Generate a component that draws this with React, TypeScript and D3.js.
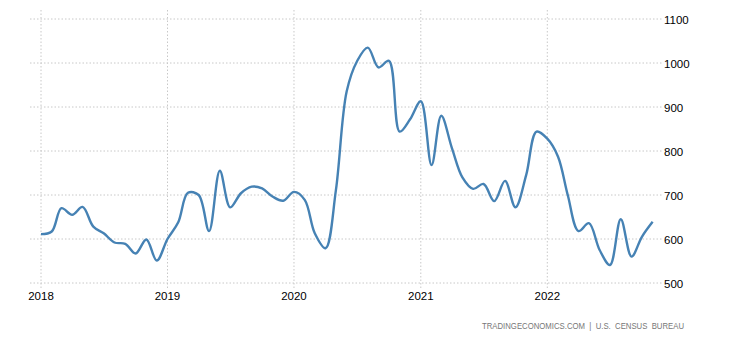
import React from "react";
import * as d3 from "d3";

const startYear = 2018;
const values: number[] = [
  611, 617, 670, 655, 673, 628, 613, 592, 589, 567, 599, 551,
  600, 638, 705, 700, 618, 755, 672, 704, 719, 715, 696, 687,
  707, 689, 613, 579, 711, 935, 1004, 1035, 990, 1005, 844, 872,
  913, 768, 880, 806, 740, 714, 725, 686, 732, 672, 745, 844,
  828, 787, 700, 618, 636, 575, 541, 645, 560, 605, 639,
];
const yearTicks = [2018, 2019, 2020, 2021, 2022];
const yTicks = [500, 600, 700, 800, 900, 1000, 1100];
const sourceText = "TRADINGECONOMICS.COM  |  U.S.  CENSUS  BUREAU";

export default function App() {
  const W = 730, H = 340;
  const dates = values.map((_, i) => new Date(startYear, i, 1));
  const x = d3.scaleTime()
    .domain([new Date(2018, 0, 1), new Date(2022, 0, 1)])
    .range([41, 547.3]);
  const y = d3.scaleLinear().domain([500, 1100]).range([283, 19]);
  const line = d3.line<number>()
    .x((_, i) => x(dates[i]))
    .y((d) => y(d))
    .curve(d3.curveCatmullRom.alpha(0.5));
  const font = "Tahoma, 'Liberation Sans', Arial, sans-serif";
  return (
    <svg width={W} height={H} style={{ position: "absolute", left: 0, top: 0 }}>
      <rect width={W} height={H} fill="#fff" />
      {yTicks.map((t) => (
        <g key={t}>
          <line x1={30} x2={662} y1={y(t)} y2={y(t)} stroke="#c8c8c8" strokeDasharray="1.5,2" />
          <text x={664} y={y(t) + 4.5} fontSize={11.5} fontFamily={font} fill="#000">{t}</text>
        </g>
      ))}
      {yearTicks.map((yr) => {
        const xx = x(new Date(yr, 0, 1));
        return (
          <g key={yr}>
            <line x1={xx} x2={xx} y1={10} y2={288} stroke="#c8c8c8" strokeDasharray="1.5,2" />
            <text x={xx} y={300} fontSize={11.5} fontFamily={font} textAnchor="middle" fill="#000">{yr}</text>
          </g>
        );
      })}
      <path d={line(values) || ""} fill="none" stroke="#4682b4" strokeWidth={2.4} strokeLinejoin="round" />
      <text x={482} y={328.5} fontSize={9.5} fontFamily={font} fill="#777" textLength={202} lengthAdjust="spacingAndGlyphs" style={{ whiteSpace: "pre" }}>{sourceText}</text>
    </svg>
  );
}
